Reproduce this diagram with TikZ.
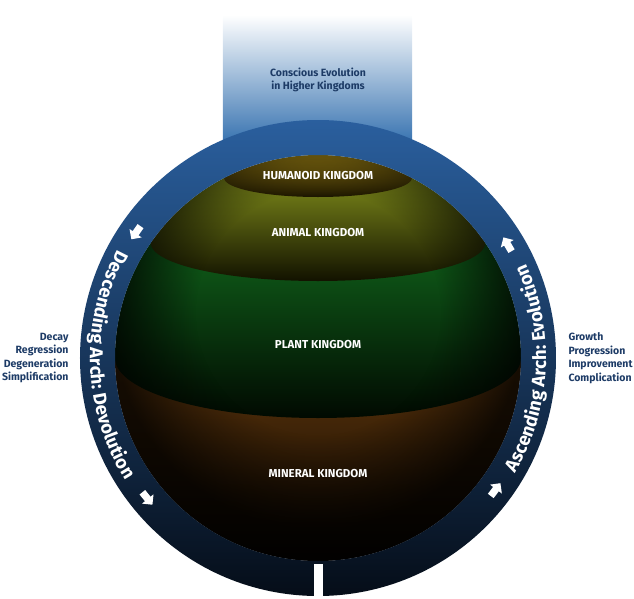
\documentclass[tikz,border=0pt]{standalone}
\usepackage{fontspec}
\setmainfont{Fira Sans}
\usetikzlibrary{shapes.arrows,decorations.text,fadings}
\definecolor{ringtop}{HTML}{2A5F9E}
\definecolor{ringbot}{HTML}{050D18}
\definecolor{boxblue}{HTML}{3C76B2}
\definecolor{textblue}{HTML}{1D3B66}
\definecolor{humtop}{HTML}{A08414}
\definecolor{humbot}{HTML}{1A1400}
\definecolor{animtop}{HTML}{7E8A1A}
\definecolor{animbot}{HTML}{121200}
\definecolor{planttop}{HTML}{10601A}
\definecolor{plantbot}{HTML}{010A01}
\definecolor{mintop}{HTML}{5E360C}
\definecolor{minmid}{HTML}{3A2108}
\definecolor{minbot}{HTML}{080400}
\newcommand\archfont{\color{white}\bfseries\fontsize{18.5}{20}\selectfont}
\pgfdeclareradialshading{vigshade}{\pgfpoint{0bp}{8bp}}{rgb(0bp)=(0,0,0); rgb(15bp)=(0,0,0); rgb(25bp)=(0.75,0.75,0.75); rgb(50bp)=(0.75,0.75,0.75)}
\pgfdeclarefading{vignette}{\pgfuseshading{vigshade}}
\tikzstyle{kingdom} = [text=white, font=\bfseries\fontsize{11.5}{13}\selectfont]
\tikzstyle{sidetext} = [text=textblue, font=\bfseries\fontsize{10.5}{13.6}\selectfont]
\tikzstyle{marker} = [single arrow, fill=white, inner sep=3.4pt, minimum height=16pt, single arrow head extend=3.8pt, single arrow head indent=0pt]

\begin{document}
\begin{tikzpicture}[x=1pt, y=1pt]
        \useasboundingbox (-318,-240) rectangle (316,358);
        \shade[top color=white, middle color=boxblue!40, bottom color=boxblue] (-95,218) rectangle (94,343);
        \node[sidetext, align=center] (higher) at (0,278) {Conscious Evolution\\in Higher Kingdoms};
        \begin{scope}
            \clip (0,0) circle (203pt);
            \shade[top color=mintop, middle color=minmid, bottom color=minbot] (-203,-203) rectangle (203,3);
        \end{scope}
        \begin{scope}
            \clip (-203,0) arc[start angle=180, end angle=360, x radius=203pt, y radius=60pt] arc[start angle=0, end angle=180, radius=203pt] -- cycle;
            \shade[top color=planttop, bottom color=plantbot] (-203,-60) rectangle (203,118);
        \end{scope}
        \begin{scope}
            \clip (-167.3,115) arc[start angle=180, end angle=360, x radius=167.3pt, y radius=38pt] arc[start angle=34.5, end angle=145.5, radius=203pt] -- cycle;
            \shade[top color=animtop, bottom color=animbot] (-203,77) rectangle (203,182);
        \end{scope}
        \begin{scope}
            \clip (-93.86,180) arc[start angle=180, end angle=360, x radius=93.86pt, y radius=19pt] arc[start angle=62.45, end angle=117.55, radius=203pt] -- cycle;
            \shade[top color=humtop, bottom color=humbot] (-94,161) rectangle (94,203);
        \end{scope}
        \fill[black, path fading=vignette] (0,0) circle (203pt);
        \node[kingdom] (humanoid) at (0,182) {HUMANOID KINGDOM};
        \node[kingdom] (animal) at (0,125) {ANIMAL KINGDOM};
        \node[kingdom] (plant) at (0,13) {PLANT KINGDOM};
        \node[kingdom] (mineral) at (0,-116) {MINERAL KINGDOM};
        \shade[top color=ringtop, bottom color=ringbot, even odd rule] (0,0) circle (238pt) (0,0) circle (203pt);
        \fill[white] (-4.5,-241) rectangle (4.5,-206);
        \path[decorate, decoration={text along path, text align=center, text={|\archfont|Descending Arch: Devolution}}] (140:228) arc[start angle=140, end angle=224, radius=228pt];
        \path[decorate, decoration={text along path, text align=center, text={|\archfont|Ascending Arch: Evolution}}] (-42:228) arc[start angle=-42, end angle=36, radius=228pt];
        \node[marker, rotate=235] (downtop) at (145:221) {};
        \node[marker, rotate=309] (downbot) at (219:221) {};
        \node[marker, rotate=120.5] (uptop) at (30.5:221) {};
        \node[marker, rotate=53] (upbot) at (-37:221) {};
        \node[sidetext, align=right, anchor=east] (decay) at (-246,0) {Decay\\Regression\\Degeneration\\Simplification};
        \node[sidetext, align=left, anchor=west] (growth) at (247,0) {Growth\\Progression\\Improvement\\Complication};
\end{tikzpicture}
\end{document}
